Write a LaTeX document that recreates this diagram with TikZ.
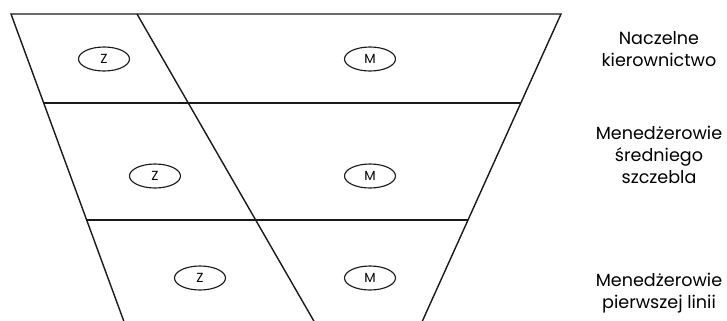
\documentclass[tikz,border=0pt]{standalone}
\usepackage{fontspec}
\setmainfont{Poppins}
\usetikzlibrary{calc,shapes.geometric}
\definecolor{inkline}{HTML}{1A1A1A}

\begin{document}
\begin{tikzpicture}[x=0.02cm,y=-0.02cm,
  oval/.style={draw=inkline,ellipse,line width=0.65pt,minimum width=51*0.02cm,minimum height=24*0.02cm,inner sep=0pt,font=\fontsize{7.5}{8}\selectfont},
  levelname/.style={align=center,font=\fontsize{10}{12.4}\selectfont}]
\useasboundingbox (0,0) rectangle (727,321);
% corners of the funnel (bottom edge runs off the page)
\coordinate (tl) at (11,14);
\coordinate (tr) at (561,14);
\coordinate (bl) at (124.5,323);
\coordinate (br) at (421.5,323);
\coordinate (dt) at (137,14);
\coordinate (db) at (315,323);
\draw[inkline,line width=0.8pt] (bl) -- (tl) -- (tr) -- (br);
\draw[inkline,line width=0.8pt] (dt) -- (db);
\draw[inkline,line width=0.8pt] ($(tl)!89/309!(bl)$) -- ($(tr)!89/309!(br)$);
\draw[inkline,line width=0.8pt] ($(tl)!206/309!(bl)$) -- ($(tr)!206/309!(br)$);
% Z and M in each level
\node[oval] (z1) at (104,59) {Z};
\node[oval] (m1) at (370,59) {M};
\node[oval] (z2) at (155,176) {Z};
\node[oval] (m2) at (370,176) {M};
\node[oval] (z3) at (200,278) {Z};
\node[oval] (m3) at (370,278) {M};
% level names
\node[levelname] (top) at (659,49) {Naczelne\\kierownictwo};
\node[levelname] (mid) at (659,155) {Menedżerowie\\średniego\\szczebla};
\node[levelname] (low) at (659,293) {Menedżerowie\\pierwszej linii};
\end{tikzpicture}
\end{document}
